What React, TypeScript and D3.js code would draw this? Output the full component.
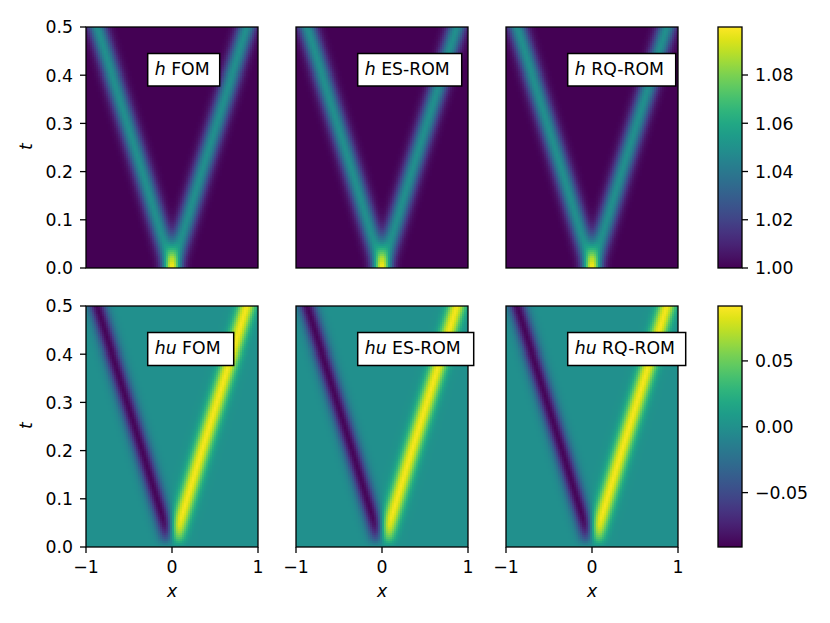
import React from "react";
import * as d3 from "d3";

// ---- values ----
const timeKnots = [0, 0.1, 0.2, 0.3, 0.4, 0.5];
const pulseCentre = [0, 0.175, 0.345, 0.52, 0.695, 0.87];
const pulseOffset = [0, 0.027, 0.054, 0.081, 0.108, 0.135, 0.162, 0.189, 0.216, 0.243, 0.27];
const pulseShape = [1, 0.93, 0.77, 0.55, 0.35, 0.19, 0.09, 0.04, 0.015, 0.005, 0];
const hBase = 1.0;
const hPulse = 0.05;
const huPulse = 0.0895;
const hDomain = [1.0, 1.0999];
const huDomain = [-0.0913, 0.0917];
const methods = ["FOM", "ES-ROM", "RQ-ROM"];
const hTicks = [1.0, 1.02, 1.04, 1.06, 1.08];
const huTicks = [-0.05, 0, 0.05];
const tTicks = [0, 0.1, 0.2, 0.3, 0.4, 0.5];
const xTicks = [-1, 0, 1];
const boxWidthsH = [72, 104, 108];
const boxWidthsHu = [86, 116, 118];

// ---- layout ----
const W = 830, H = 623;
const panelLeft = [86, 296, 506];
const panelW = 172;
const rows = [{ top: 27, bottom: 268 }, { top: 306, bottom: 547 }];
const cbX = 718, cbW = 24;
const FONT = "'DejaVu Sans', sans-serif";
const FS = 17.3;
const SW = 1.3;
const TICK = 6;

const centreAt = d3.scaleLinear().domain(timeKnots).range(pulseCentre);
const shapeAt = d3.scaleLinear().domain(pulseOffset).range(pulseShape).clamp(true);

function hValue(x: number, t: number) {
  const c = centreAt(t);
  return hBase + hPulse * (shapeAt(Math.abs(x - c)) + shapeAt(Math.abs(x + c)));
}
function huValue(x: number, t: number) {
  const c = centreAt(t);
  return huPulse * (shapeAt(Math.abs(x - c)) - shapeAt(Math.abs(x + c)));
}

const nCols = 86, nRows = 120;
const xCells = d3.range(nCols).map((i) => -1 + (2 * (i + 0.5)) / nCols);
const tCells = d3.range(nRows).map((j) => (0.5 * (j + 0.5)) / nRows);

function Heat({ left, row, value, base, color }: any) {
  const xs = d3.scaleLinear().domain([-1, 1]).range([left, left + panelW]);
  const ys = d3.scaleLinear().domain([0, 0.5]).range([row.bottom, row.top]);
  const dx = panelW / nCols, dy = (row.bottom - row.top) / nRows;
  const cells: any[] = [];
  tCells.forEach((t, j) => {
    xCells.forEach((x, i) => {
      const v = value(x, t);
      if (Math.abs(v - base) < 1e-4) return;
      cells.push(
        <rect key={`${i}-${j}`} x={xs(x) - dx / 2} y={ys(t) - dy / 2} width={dx + 0.3} height={dy + 0.3} fill={color(v)} />
      );
    });
  });
  return (
    <g shapeRendering="crispEdges">
      <rect x={left} y={row.top} width={panelW} height={row.bottom - row.top} fill={color(base)} />
      {cells}
    </g>
  );
}

function Ticks({ left, row, showY, showX, xLabel }: any) {
  const xs = d3.scaleLinear().domain([-1, 1]).range([left, left + panelW]);
  const ys = d3.scaleLinear().domain([0, 0.5]).range([row.bottom, row.top]);
  return (
    <g fontFamily={FONT} fontSize={FS} fill="#000">
      <rect x={left} y={row.top} width={panelW} height={row.bottom - row.top} fill="none" stroke="#000" strokeWidth={SW} />
      {showY && tTicks.map((t) => (
        <g key={t}>
          <line x1={left - TICK} x2={left} y1={ys(t)} y2={ys(t)} stroke="#000" strokeWidth={SW} />
          <text x={left - 13} y={ys(t) + 6.3} textAnchor="end">{t.toFixed(1)}</text>
        </g>
      ))}
      {showX && xTicks.map((v) => (
        <g key={v}>
          <line x1={xs(v)} x2={xs(v)} y1={row.bottom} y2={row.bottom + TICK} stroke="#000" strokeWidth={SW} />
          <text x={xs(v)} y={row.bottom + 26} textAnchor="middle">{v < 0 ? `\u2212${-v}` : v}</text>
        </g>
      ))}
      {xLabel && (
        <text x={left + panelW / 2} y={row.bottom + 50} textAnchor="middle" fontStyle="italic">x</text>
      )}
    </g>
  );
}

function Colorbar({ row, domain, ticks, fmt, gid }: any) {
  const y = d3.scaleLinear().domain(domain).range([row.bottom, row.top]);
  const stops = d3.range(0, 1.0001, 0.05);
  return (
    <g fontFamily={FONT} fontSize={FS}>
      <defs>
        <linearGradient id={gid} x1="0" y1="1" x2="0" y2="0">
          {stops.map((s) => (
            <stop key={s} offset={s} stopColor={d3.interpolateViridis(s)} />
          ))}
        </linearGradient>
      </defs>
      <rect x={cbX} y={row.top} width={cbW} height={row.bottom - row.top} fill={`url(#${gid})`} stroke="#000" strokeWidth={SW} />
      {ticks.map((v: number) => (
        <g key={v}>
          <line x1={cbX + cbW} x2={cbX + cbW + TICK} y1={y(v)} y2={y(v)} stroke="#000" strokeWidth={SW} />
          <text x={cbX + cbW + 13} y={y(v) + 6.3}>{fmt(v)}</text>
        </g>
      ))}
    </g>
  );
}

function Label({ left, top, height, width, sym, method }: any) {
  const x = left + 61.7;
  return (
    <g fontFamily={FONT} fontSize={FS}>
      <rect x={x} y={top} width={width} height={height} fill="#fff" stroke="#000" strokeWidth={1.5} />
      <text x={x + 7} y={top + 21.5}>
        <tspan fontStyle="italic">{sym}</tspan>
        <tspan> {method}</tspan>
      </text>
    </g>
  );
}

export default function App() {
  const hColor = d3.scaleSequential(d3.interpolateViridis).domain(hDomain as any);
  const huColor = d3.scaleSequential(d3.interpolateViridis).domain(huDomain as any);
  const signed = (v: number) => (v < 0 ? `\u2212${(-v).toFixed(2)}` : v.toFixed(2));
  return (
    <svg width={W} height={H} viewBox={`0 0 ${W} ${H}`} style={{ position: "absolute", left: 0, top: 0, background: "#fff" }}>
      {panelLeft.map((left, i) => (
        <g key={i}>
          <Heat left={left} row={rows[0]} value={hValue} base={hBase} color={hColor} />
          <Heat left={left} row={rows[1]} value={huValue} base={0} color={huColor} />
          <Ticks left={left} row={rows[0]} showY={i === 0} showX={false} />
          <Ticks left={left} row={rows[1]} showY={i === 0} showX={true} xLabel={true} />
          <Label left={left} top={53.5} height={32.5} width={boxWidthsH[i]} sym="h" method={methods[i]} />
          <Label left={left} top={332.5} height={33} width={boxWidthsHu[i]} sym="hu" method={methods[i]} />
        </g>
      ))}
      {rows.map((r, i) => (
        <text key={i} transform={`translate(32,${(r.top + r.bottom) / 2 - 1}) rotate(-90)`} textAnchor="middle" fontFamily={FONT} fontSize={FS} fontStyle="italic">t</text>
      ))}
      <Colorbar row={rows[0]} domain={hDomain} ticks={hTicks} fmt={(v: number) => v.toFixed(2)} gid="cbh" />
      <Colorbar row={rows[1]} domain={huDomain} ticks={huTicks} fmt={signed} gid="cbhu" />
    </svg>
  );
}
